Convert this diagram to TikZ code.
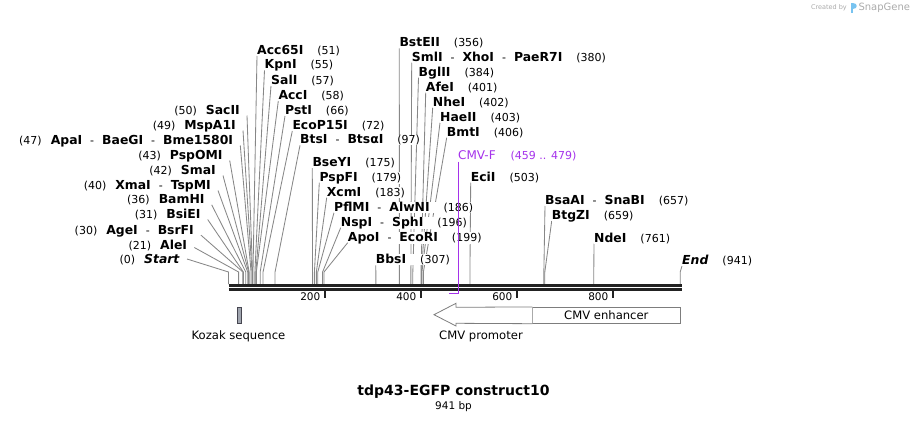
\documentclass[tikz,border=0pt]{standalone}
\usepackage{fontspec}
\setmainfont{DejaVu Sans}[BoldFont={DejaVu Sans Bold},ItalicFont={DejaVu Sans Oblique},BoldItalicFont={DejaVu Sans Bold Oblique}]
\usetikzlibrary{calc, backgrounds}
\definecolor{cutLine}{RGB}{135,135,135}
\definecolor{bbDark}{RGB}{34,34,34}
\definecolor{primerPur}{RGB}{165,50,235}
\definecolor{featBrd}{RGB}{125,125,125}
\definecolor{kozakFill}{RGB}{160,165,175}
\definecolor{kozakBrd}{RGB}{70,70,80}
\definecolor{creditGray}{RGB}{170,170,170}
\definecolor{logoBlue}{RGB}{120,195,240}
\tikzset{
  every node/.style={font=\fontsize{11}{13}\selectfont},
  LBL/.style={font=\fontsize{12.4}{14}\selectfont\bfseries, inner sep=0pt, fill=white},
  LR/.style={LBL, anchor=base west},
  LL/.style={LBL, anchor=base east},
  CUT/.style={cutLine, line width=0.85pt},
  BB/.style={bbDark, line width=2.5pt},
  TICK/.style={bbDark, line width=2pt},
  FEAT/.style={draw=featBrd, line width=0.8pt, fill=white},
  FLBL/.style={font=\fontsize{11.6}{13}\selectfont},
  PRM/.style={anchor=base west, inner sep=0pt, text=primerPur, font=\fontsize{12}{14}\selectfont},
}
\newcommand{\pos}[1]{{\fontsize{11}{13}\selectfont\mdseries(#1)}}
\newcommand{\sepd}{\hspace{8pt}{\fontsize{11}{13}\selectfont\mdseries-}\hspace{8pt}}
\newcommand{\site}[2]{#1\hspace{14pt}\pos{#2}}
\newcommand{\siteL}[2]{\pos{#2}\hspace{9pt}#1}
\newcommand{\cutR}[2]{\draw[CUT] ($(#1.base west)+(0,1.5)$) -- (#2 |- bend) -- (#2);}
\newcommand{\cutL}[3][1]{\draw[CUT] ($(#2.base east)+(7,#1)$) -- (#3 |- bend) -- (#3);}

\begin{document}
\begin{tikzpicture}[x=1pt, y=1pt, yscale=-1]
\useasboundingbox (0,0) rectangle (910,423);

%% ═══════════════════════════════════════════════════════════════════════════
%%  Sequence line (941 bp)
%% ═══════════════════════════════════════════════════════════════════════════

\coordinate (bend) at (0,272);
\foreach \b in {0,21,30,31,36,40,42,43,47,49,50,51,55,57,58,66,72,97,175,179,183,186,196,199,307,356,380,384,401,402,403,406,503,657,659,761,941}
  \coordinate (s\b) at ({228.5+0.48*\b},284);

\draw[BB] (228.5,285.3) -- (681.5,285.3);
\draw[BB] (228.5,289.3) -- (681.5,289.3);

\foreach \t in {200,400,600,800} {
  \draw[TICK] ({228.5+0.48*\t},290.5) -- ++(0,7);
  \node[anchor=east, inner sep=0pt, font=\fontsize{10.5}{12}\selectfont] (t\t) at ({228.5+0.48*\t-4},297) {\t};
}

%% ═══════════════════════════════════════════════════════════════════════════
%%  Enzyme labels
%% ═══════════════════════════════════════════════════════════════════════════

% left fan
\node[LL] (sac)   at (240,114.5)   {\siteL{SacII}{50}};
\node[LL] (mspa)  at (236,129.5)   {\siteL{MspA1I}{49}};
\node[LL] (apa)   at (233.3,144.5) {\siteL{ApaI\sepd BaeGI\sepd Bme1580I}{47}};
\node[LL] (pspo)  at (222.7,159.5) {\siteL{PspOMI}{43}};
\node[LL] (sma)   at (216,174.5)   {\siteL{SmaI}{42}};
\node[LL] (xma)   at (211,189.5)   {\siteL{XmaI\sepd TspMI}{40}};
\node[LL] (bam)   at (204.7,203.8) {\siteL{BamHI}{36}};
\node[LL] (bsie)  at (200.7,218.5) {\siteL{BsiEI}{31}};
\node[LL] (age)   at (194,234.2)   {\siteL{AgeI\sepd BsrFI}{30}};
\node[LL] (ale)   at (187.3,249.5) {\siteL{AleI}{21}};
\node[LL] (start) at (180,263.8)   {\siteL{\textit{Start}}{0}};

% upper fan
\node[LR] (acc65) at (257,54.5)    {\site{Acc65I}{51}};
\node[LR] (kpn)   at (264.5,68.8)  {\site{KpnI}{55}};
\node[LR] (sal)   at (271,84.5)    {\site{SalI}{57}};
\node[LR] (acci)  at (278.3,99.5)  {\site{AccI}{58}};
\node[LR] (pst)   at (285,114.5)   {\site{PstI}{66}};
\node[LR] (ecop)  at (292.3,129.5) {\site{EcoP15I}{72}};
\node[LR] (bts)   at (300,143.8)   {\site{BtsI\sepd BtsαI}{97}};

% middle
\node[LR] (bsey)  at (312.3,166.5) {\site{BseYI}{175}};
\node[LR] (pspf)  at (319.3,181.2) {\site{PspFI}{179}};
\node[LR] (xcm)   at (326.7,196.2) {\site{XcmI}{183}};
\node[LR] (pflm)  at (334,211.2)   {\site{PflMI\sepd AlwNI}{186}};
\node[LR] (nsp)   at (340.7,226.2) {\site{NspI\sepd SphI}{196}};
\node[LR] (apo)   at (347.7,241.2) {\site{ApoI\sepd EcoRI}{199}};
\node[LR] (bbs)   at (375.7,263.8) {\site{BbsI}{307}};

\node[LR] (bste)  at (399.3,46.8)  {\site{BstEII}{356}};
\node[LR] (sml)   at (411.7,61.2)  {\site{SmlI\sepd XhoI\sepd PaeR7I}{380}};
\node[LR] (bgl)   at (418.5,76.2)  {\site{BglII}{384}};
\node[LR] (afe)   at (425.7,91.2)  {\site{AfeI}{401}};
\node[LR] (nhe)   at (432.7,106.2) {\site{NheI}{402}};
\node[LR] (hae)   at (440,121.2)   {\site{HaeII}{403}};
\node[LR] (bmt)   at (446.7,136.2) {\site{BmtI}{406}};
\node[LR] (eci)   at (470.7,181.2) {\site{EciI}{503}};

% right
\node[LR] (bsaa)  at (545,204.5)   {\site{BsaAI\sepd SnaBI}{657}};
\node[LR] (btgz)  at (551.7,219.5) {\site{BtgZI}{659}};
\node[LR] (nde)   at (594,242.2)   {\site{NdeI}{761}};
\node[LR] (endl)  at (682,264.5)   {\site{\textit{End}}{941}};

\begin{scope}[on background layer]
  \cutL{sac}{s50}
  \cutL{mspa}{s49}
  \cutL{apa}{s47}
  \cutL{pspo}{s43}
  \cutL{sma}{s42}
  \cutL{xma}{s40}
  \cutL{bam}{s36}
  \cutL{bsie}{s31}
  \cutL{age}{s30}
  \cutL[-2]{ale}{s21}
  \cutL[-4.8]{start}{s0}
  \cutR{acc65}{s51}
  \cutR{kpn}{s55}
  \cutR{sal}{s57}
  \cutR{acci}{s58}
  \cutR{pst}{s66}
  \cutR{ecop}{s72}
  \cutR{bts}{s97}
  \cutR{bsey}{s175}
  \cutR{pspf}{s179}
  \cutR{xcm}{s183}
  \cutR{pflm}{s186}
  \cutR{nsp}{s196}
  \cutR{apo}{s199}
  \cutR{bbs}{s307}
  \cutR{bste}{s356}
  \cutR{sml}{s380}
  \cutR{bgl}{s384}
  \cutR{afe}{s401}
  \cutR{nhe}{s402}
  \cutR{hae}{s403}
  \cutR{bmt}{s406}
  \cutR{eci}{s503}
  \cutR{bsaa}{s657}
  \cutR{btgz}{s659}
  \cutR{nde}{s761}
  \cutR{endl}{s941}
\end{scope}

%% Primer CMV-F
\node[PRM] (cmvf) at (458,159.5)
  {CMV-F\hspace{15pt}{\fontsize{11}{13}\selectfont(459 .. 479)}};
\coordinate (p459) at ({228.5+0.48*459},293.3);
\coordinate (p479) at ({228.5+0.48*479},293.3);
\draw[primerPur, line width=1.4pt] ($(p479 |- cmvf.base)+(0,2)$) -- (p479) -- (p459);

%% ═══════════════════════════════════════════════════════════════════════════
%%  Features
%% ═══════════════════════════════════════════════════════════════════════════

\draw[fill=kozakFill, draw=kozakBrd, line width=0.7pt] (237.5,307.3) rectangle (241.5,323.3);
\node[FLBL] (kozak) at (238.5,336.7) {Kozak sequence};

\node[FEAT, FLBL, minimum width=147.3pt, minimum height=16pt, inner sep=0pt] (enh)
  at (606.35,315.3) {CMV enhancer};
\draw[FEAT] (enh.north west) -- (456,307.3) -- (456,303.3) -- (434,314.7)
  -- (456,326) -- (456,323.3) -- (enh.south west);
\node[FLBL] (prom) at (481,336.7) {CMV promoter};

%% Title
\node[font=\fontsize{14}{16}\selectfont\bfseries] (title) at (453.5,391.7) {tdp43-EGFP construct10};
\node[font=\fontsize{10.5}{12}\selectfont] (len) at (453.5,406.5) {941 bp};

%% Credit
\node[anchor=east, inner sep=0pt, text=creditGray, font=\fontsize{6.5}{8}\selectfont] (crby) at (847,7.7) {Created by};
\fill[logoBlue] (850.7,2.7) rectangle (852.6,13.3);
\fill[logoBlue] (852.6,2.7) .. controls (857.5,2.7) and (857.5,9) .. (852.6,9) -- cycle;
\node[anchor=west, inner sep=0pt, text=creditGray, font=\fontsize{10}{12}\selectfont] (sg) at (858.3,7.7) {SnapGene};

\end{tikzpicture}
\end{document}
